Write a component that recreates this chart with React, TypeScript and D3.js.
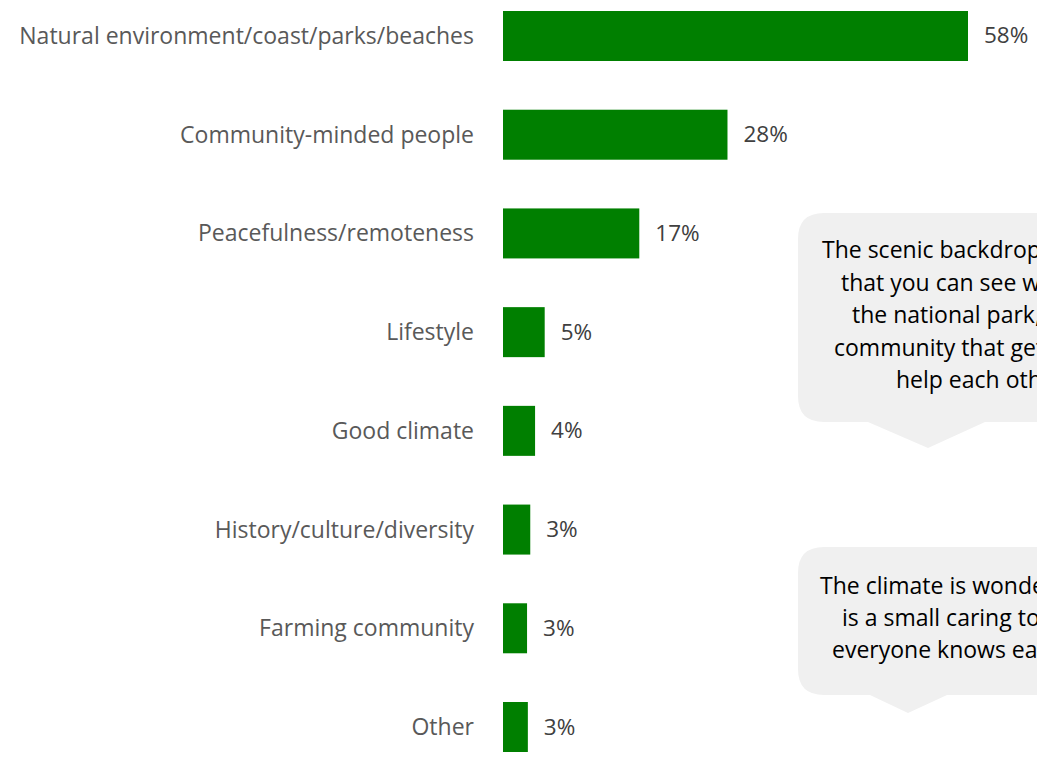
import React from "react";
import * as d3 from "d3";

const categories = [
  "Natural environment/coast/parks/beaches",
  "Community-minded people",
  "Peacefulness/remoteness",
  "Lifestyle",
  "Good climate",
  "History/culture/diversity",
  "Farming community",
  "Other",
];
const values = [58, 28, 17, 5.2, 4.0, 3.4, 3.0, 3.1];
const valueLabels = ["58%", "28%", "17%", "5%", "4%", "3%", "3%", "3%"];

const quote1 = [
  "The scenic backdrop of the mountains",
  "that you can see wherever you are,",
  "the national park, the beaches and a",
  "community that gets together to",
  "help each  other.",
];
const quote2 = [
  "The climate is wonderful and it",
  "is a small caring town where",
  "everyone knows each other.",
];

const W = 1037;
const H = 757;
const FONT = "'Open Sans', sans-serif";

function bubblePath(x: number, y: number, w: number, h: number, r: number, px0: number, px1: number, tipX: number, tipY: number) {
  const b = y + h;
  return [
    `M${x + r},${y}`,
    `H${x + w - r}`,
    `Q${x + w},${y} ${x + w},${y + r}`,
    `V${b - r}`,
    `Q${x + w},${b} ${x + w - r},${b}`,
    `H${px1}`,
    `L${tipX},${tipY}`,
    `L${px0},${b}`,
    `H${x + r}`,
    `Q${x},${b} ${x},${b - r}`,
    `V${y + r}`,
    `Q${x},${y} ${x + r},${y}`,
    "Z",
  ].join(" ");
}

export default function App() {
  const y = d3.scaleBand<string>().domain(categories).range([11, 752]).paddingInner(0.4935).paddingOuter(0);
  const x = d3.scaleLinear().domain([0, 58]).range([503, 968]);

  const q1x = [822, 841, 852, 834, 896];
  const q2x = [820, 842, 832];

  return (
    <div style={{ position: "fixed", left: 0, top: 0 }}>
      <svg width={W} height={H} style={{ display: "block", background: "#fff" }}>
        {categories.map((c, i) => {
          const yy = y(c)!;
          const cy = yy + y.bandwidth() / 2;
          return (
            <g key={c}>
              <rect x={x(0)} y={yy} width={x(values[i]) - x(0)} height={y.bandwidth()} fill="#007f00" />
              <text x={474} y={cy - 1} textAnchor="end" dominantBaseline="central" fontFamily={FONT} fontSize={23} fill="#595959">
                {c}
              </text>
              <text x={x(values[i]) + 16} y={cy - 1} dominantBaseline="central" fontFamily={FONT} fontSize={22.5} fill="#404040">
                {valueLabels[i]}
              </text>
            </g>
          );
        })}
        <path d={bubblePath(798, 213, 500, 209, 26, 868, 985, 928, 448)} fill="#f0f0f0" />
        {quote1.map((t, i) => (
          <text key={i} x={q1x[i]} y={249 + i * 32.5} dominantBaseline="central" fontFamily={FONT} fontSize={23} fill="#000">
            {t}
          </text>
        ))}
        <path d={bubblePath(798, 547, 500, 148, 26, 870, 947, 908, 713)} fill="#f0f0f0" />
        {quote2.map((t, i) => (
          <text key={i} x={q2x[i]} y={585 + i * 32} dominantBaseline="central" fontFamily={FONT} fontSize={23} fill="#000">
            {t}
          </text>
        ))}
      </svg>
    </div>
  );
}
